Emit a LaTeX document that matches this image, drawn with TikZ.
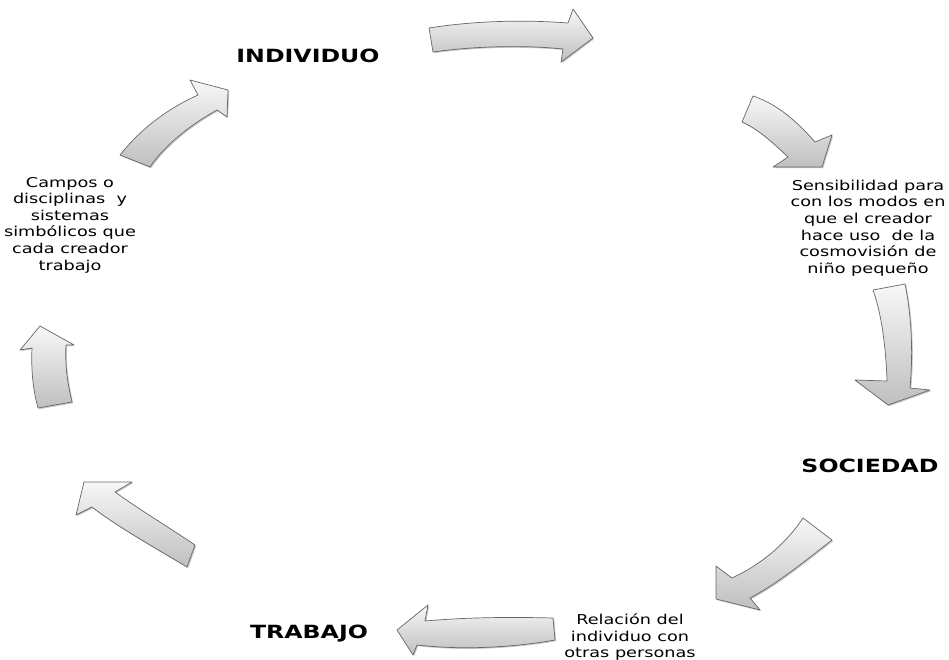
\documentclass[tikz,border=0pt]{standalone}
\usepackage{fontspec}
\usetikzlibrary{shadows}
\newfontfamily\tf[FakeStretch=1.3]{DejaVu Sans}
\tikzset{
  blockarrow/.style={draw=black!60, line width=0.7pt, line join=round,
    top color=black!3, bottom color=black!25,
    general shadow={shadow xshift=1.2pt, shadow yshift=-1.2pt, fill=black, opacity=0.22}},
  title/.style={font=\tf\bfseries\fontsize{18.2}{20}\selectfont, text=black, inner sep=0pt},
  note/.style={font=\tf\fontsize{13.6}{16.6}\selectfont, text=black, align=center, inner sep=0pt}
}
\begin{document}
\begin{tikzpicture}[x=1pt,y=-1pt]
\useasboundingbox (0,0) rectangle (949,659);
% arrow 1 (top, right)
\path[blockarrow] (429,28) .. controls (480,20) and (530,20) .. (568,23) -- (573,9) -- (593,38) -- (561,62) -- (563,49) .. controls (525,45) and (475,46) .. (433,52) -- cycle;
% arrow 2 (top right, down-right)
\path[blockarrow] (753,96) .. controls (780,105) and (800,125) .. (815,142) -- (832,135) -- (822,167) -- (773,167) -- (788,157) .. controls (775,145) and (760,130) .. (742,122) -- cycle;
% arrow 3 (right, down)
\path[blockarrow] (873,290) -- (905,284) .. controls (912,318) and (913,355) .. (910,388) -- (930,390) -- (888,405) -- (855,380) -- (887,381) .. controls (886,350) and (882,315) .. (873,290) -- cycle;
% arrow 4 (bottom right, down-left)
\path[blockarrow] (803,518) -- (832,540) .. controls (800,565) and (775,585) .. (750,598) -- (760,610) -- (716,599) -- (716,566) -- (732,578) .. controls (760,565) and (785,545) .. (803,518) -- cycle;
% arrow 5 (bottom, left)
\path[blockarrow] (553,618) -- (555,640) .. controls (510,648) and (460,650) .. (417,645) -- (413,655) -- (397,630) -- (428,605) -- (425,621) .. controls (470,617) and (515,617) .. (553,618) -- cycle;
% arrow 6 (bottom left, up-left)
\path[blockarrow] (195,545) -- (187,567) .. controls (150,545) and (115,525) .. (92,507) -- (76,515) -- (84,482) -- (132,482) -- (115,492) .. controls (140,510) and (170,528) .. (195,545) -- cycle;
% arrow 7 (left, up)
\path[blockarrow] (38,408) -- (72,402) .. controls (67,380) and (65,365) .. (66,345) -- (74,345) -- (40,326) -- (20,350) -- (32,348) .. controls (31,370) and (33,390) .. (38,408) -- cycle;
% arrow 8 (top left, up-right)
\path[blockarrow] (120,155) .. controls (140,130) and (165,110) .. (198,95) -- (190,80) -- (228,90) -- (227,117) -- (217,110) .. controls (190,125) and (165,145) .. (150,167) -- cycle;
% titles
\node[title] (individuo) at (308,56) {INDIVIDUO};
\node[title] (sociedad) at (870,466) {SOCIEDAD};
\node[title] (trabajo) at (309,634) {TRABAJO};
% notes
\node[note] (campos) at (70,225) {Campos o\\disciplinas\ \ y\\sistemas\\simbólicos que\\cada creador\\trabajo};
\node[note] (sensibilidad) at (868,228) {Sensibilidad para\\con los modos en\\que el creador\\hace uso\ \ de la\\cosmovisión de\\niño pequeño};
\node[note] (relacion) at (630,637) {Relación del\\individuo con\\otras personas};
\end{tikzpicture}
\end{document}
